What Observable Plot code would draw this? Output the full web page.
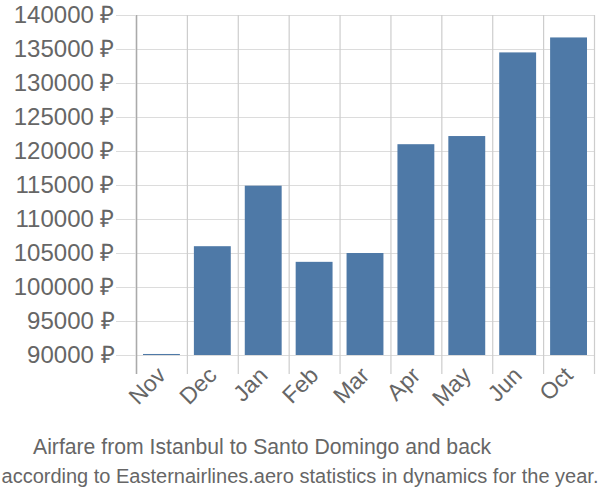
<!DOCTYPE html>
<html>
<head>
<meta charset="utf-8">
<script src="https://cdn.jsdelivr.net/npm/d3@7"></script>
<script src="https://cdn.jsdelivr.net/npm/@observablehq/plot@0.6"></script>
<style>
  body { margin: 0; background: #fff; }
  #wrap { width: 600px; font-family: "Liberation Sans", Arial, sans-serif; }
  svg { display: block; }
  .title { color: #666; font-size: 21.2px; line-height: 26px; margin-top: 9px; padding-left: 33px; white-space: nowrap; }
  .sub { text-align: center; color: #666; font-size: 20px; line-height: 28px; margin-top: 2px; white-space: nowrap; }
</style>
</head>
<body>
<div id="wrap"></div>
<script>
const months = ["Nov", "Dec", "Jan", "Feb", "Mar", "Apr", "May", "Jun", "Oct"];
const prices = [90150, 106000, 114900, 103700, 105000, 121000, 122200, 134500, 136700];
const yTicks = [90000, 95000, 100000, 105000, 110000, 115000, 120000, 125000, 130000, 135000, 140000];
const titleText = "Airfare from Istanbul to Santo Domingo and back";
const subText = "according to Easternairlines.aero statistics in dynamics for the year.";

const data = months.map((m, i) => ({month: m, price: prices[i]}));
const W = 600, H = 425, ML = 136, MR = 6;
const bw = (W - ML - MR) / months.length;

const chart = Plot.plot({
  width: W,
  height: H,
  marginLeft: ML,
  marginRight: MR,
  marginTop: 15,
  marginBottom: 70,
  style: {fontFamily: "Liberation Sans, Arial, sans-serif", background: "#fff"},
  x: {domain: months, padding: 0, round: false, label: null},
  y: {domain: [90000, 140000], label: null},
  marks: [
    Plot.gridY(yTicks, {stroke: "#dcdcdc", strokeOpacity: 1, strokeWidth: 1}),
    Plot.ruleX(months, {x: d => d, dx: -bw / 2, insetBottom: -19, stroke: "#cdcdcd", strokeWidth: 1.2}),
    Plot.ruleX(months.slice(-1), {x: d => d, dx: bw / 2, insetBottom: -19, stroke: "#cdcdcd", strokeWidth: 1.2}),
    Plot.ruleX(months.slice(0, 1), {x: d => d, dx: -bw / 2, insetBottom: -19, stroke: "#aaa", strokeWidth: 1.5}),
    Plot.barY(data, {x: "month", y1: 90000, y2: "price", fill: "#4e79a7", insetLeft: 7, insetRight: 7}),
    Plot.axisY({ticks: yTicks, tickFormat: d => d + " ₽", tickSize: 20, tickPadding: 2, fontSize: 24, stroke: "#dcdcdc", fill: "#666", label: null}),
    Plot.axisX({tickSize: 0, tickRotate: -45, tickPadding: 16, fontSize: 23, fill: "#666", label: null})
  ]
});

const wrap = document.getElementById("wrap");
wrap.appendChild(chart);
const t = document.createElement("div"); t.className = "title"; t.textContent = titleText; wrap.appendChild(t);
const s = document.createElement("div"); s.className = "sub"; s.textContent = subText; wrap.appendChild(s);
</script>
</body>
</html>
